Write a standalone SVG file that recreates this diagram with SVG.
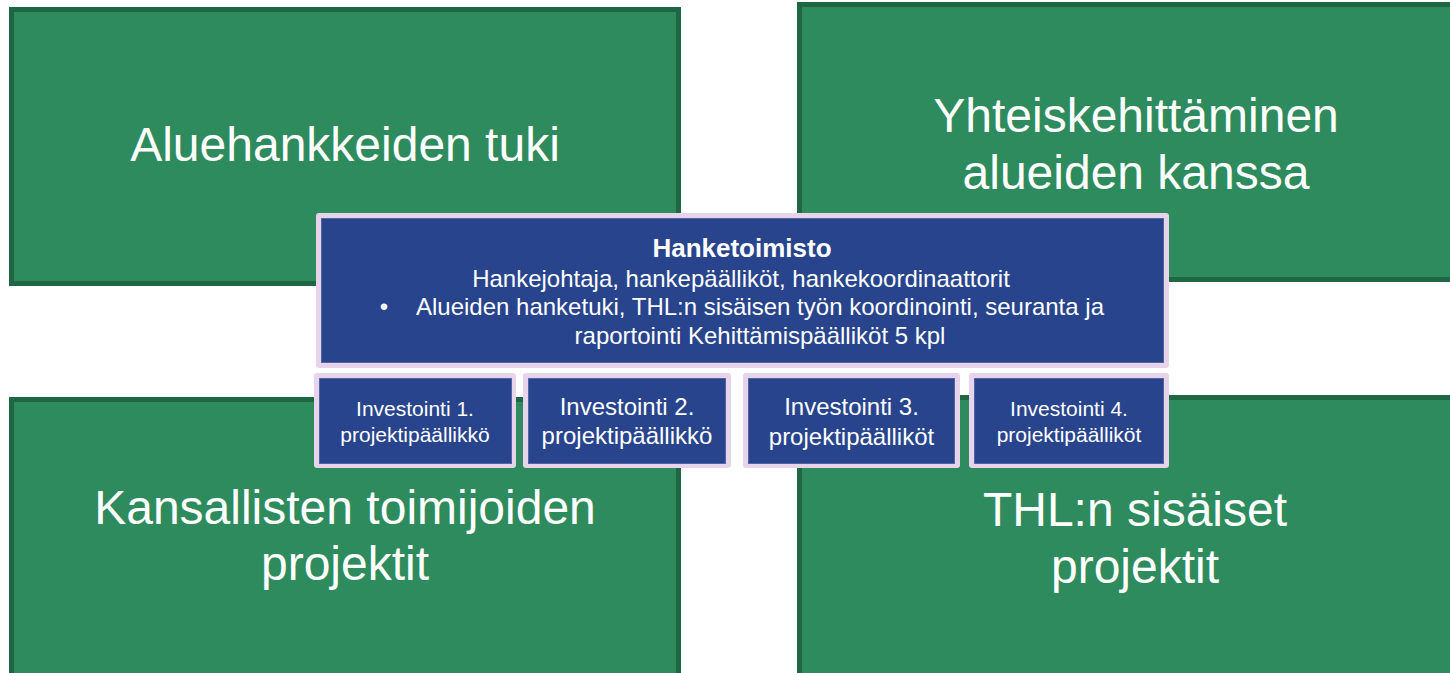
<svg xmlns="http://www.w3.org/2000/svg" width="1450" height="673" viewBox="0 0 1450 673">
<style>
.g{fill:#2e8b5e;stroke:#1f6742;stroke-width:5}
.lav{fill:#e8d4ea}
.bl{fill:#28448c;stroke:#5064a6;stroke-width:1}
text{font-family:"Liberation Sans",Arial,sans-serif;fill:#ffffff;text-anchor:middle}
.big{font-size:48px}
.mid{font-size:24px}
.sm{font-size:21px}
</style>
<rect width="1450" height="673" fill="#ffffff"/>
<g id="alue">
<rect class="g" x="11.5" y="9.5" width="667" height="274"/>
<text class="big" x="345" y="161">Aluehankkeiden tuki</text>
</g>
<g id="yhteis">
<rect class="g" x="799.5" y="4.5" width="680" height="275"/>
<text class="big" x="1136" y="132">Yhteiskehittäminen</text>
<text class="big" x="1136" y="188.5">alueiden kanssa</text>
</g>
<g id="kansalliset">
<rect class="g" x="11.5" y="399.5" width="667" height="300"/>
<text class="big" x="345" y="523.5">Kansallisten toimijoiden</text>
<text class="big" x="345" y="580">projektit</text>
</g>
<g id="thl">
<rect class="g" x="799.5" y="397.5" width="680" height="300"/>
<text class="big" x="1135" y="526">THL:n sisäiset</text>
<text class="big" x="1135" y="582.5">projektit</text>
</g>
<g id="hanketoimisto">
<rect class="lav" x="316" y="213" width="853" height="155" rx="3"/>
<rect class="bl" x="321.5" y="218.5" width="842" height="144"/>
<text x="742" y="257" style="font-size:26px;font-weight:bold">Hanketoimisto</text>
<text class="mid" x="741" y="287">Hankejohtaja, hankepäälliköt, hankekoordinaattorit</text>
<text class="mid" x="384" y="315">•</text>
<text class="mid" x="760" y="315">Alueiden hanketuki, THL:n sisäisen työn koordinointi, seuranta ja</text>
<text class="mid" x="760" y="344">raportointi Kehittämispäälliköt 5 kpl</text>
</g>
<g id="inv1">
<rect class="lav" x="314" y="373" width="202" height="95" rx="3"/>
<rect class="bl" x="319.5" y="378.5" width="192" height="85"/>
<text class="sm" x="415" y="416">Investointi 1.</text>
<text class="sm" x="415" y="442">projektipäällikkö</text>
</g>
<g id="inv2">
<rect class="lav" x="523" y="373" width="208" height="95" rx="3"/>
<rect class="bl" x="528.5" y="378.5" width="197" height="85"/>
<text class="mid" x="627" y="415">Investointi 2.</text>
<text class="mid" x="627" y="444">projektipäällikkö</text>
</g>
<g id="inv3">
<rect class="lav" x="743" y="373" width="217" height="95" rx="3"/>
<rect class="bl" x="748.5" y="378.5" width="206" height="85"/>
<text class="mid" x="851.5" y="415">Investointi 3.</text>
<text class="mid" x="851.5" y="444.5">projektipäälliköt</text>
</g>
<g id="inv4">
<rect class="lav" x="969" y="373" width="200" height="95" rx="3"/>
<rect class="bl" x="974.5" y="378.5" width="189" height="85"/>
<text class="sm" x="1069" y="416">Investointi 4.</text>
<text class="sm" x="1069" y="442">projektipäälliköt</text>
</g>
<g id="connectors"></g>
</svg>
